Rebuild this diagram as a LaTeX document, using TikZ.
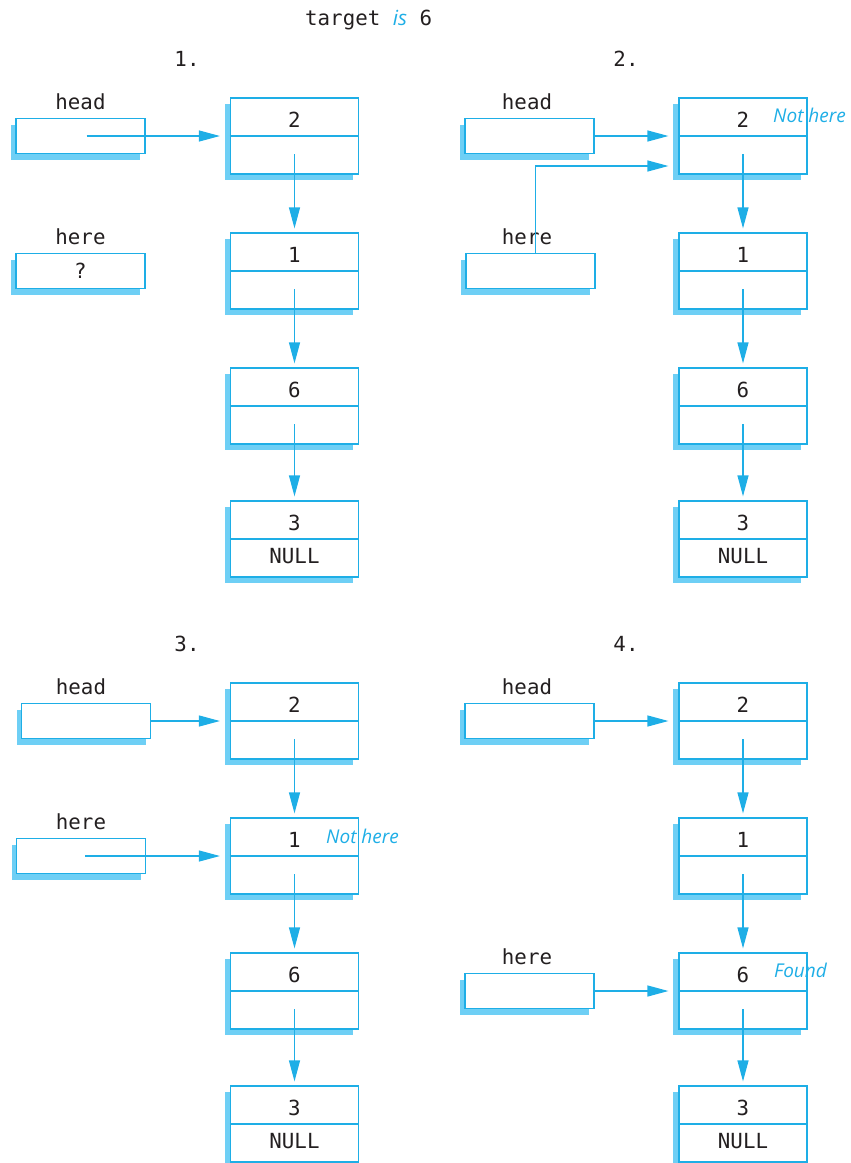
\documentclass[tikz,border=0pt]{standalone}
\usepackage{fontspec}
\setmainfont{DejaVu Sans Mono}
\newfontfamily\notefont{Open Sans}
\usetikzlibrary{arrows.meta, positioning, shadows, calc}
\definecolor{ptrblue}{RGB}{30,174,230}
\definecolor{shadeblue}{RGB}{110,207,245}
\definecolor{inkgray}{RGB}{35,31,32}
\tikzstyle{cell} = [rectangle, draw=ptrblue, fill=white, line width=1.2pt, minimum width=128pt, minimum height=76pt, inner sep=0pt, drop shadow={shadow xshift=-6pt, shadow yshift=-6pt, fill=shadeblue, draw=none, opacity=1}]
\tikzstyle{ptrbox} = [rectangle, draw=ptrblue, fill=white, line width=1.2pt, minimum width=129pt, minimum height=35pt, inner sep=0pt, drop shadow={shadow xshift=-5pt, shadow yshift=-6pt, fill=shadeblue, draw=none, opacity=1}]
\tikzstyle{celltext} = [font=\fontsize{20.8}{24}\selectfont, text=inkgray, inner sep=0pt]
\tikzstyle{note} = [font=\notefont\itshape\fontsize{19}{22}\selectfont, text=ptrblue, inner sep=0pt]
\tikzstyle{divider} = [draw=ptrblue, line width=1.2pt]
\tikzstyle{arrow} = [draw=ptrblue, line width=1.2pt, -{Triangle[length=21pt, width=11pt]}]

% one list node: name, centre, data, link field
\newcommand{\listcell}[4]{%
  \node[cell] (#1) at (#2) {};
  \draw[divider] (#1.west) -- (#1.east);
  \node[celltext, anchor=base] (#1d) at ([yshift=-30.5pt]#1.north) {#3};
  \node[celltext, anchor=base] (#1n) at ([yshift=-24.5pt]#1.center) {#4};
}

\begin{document}
\begin{tikzpicture}[x=1pt, y=-1pt]
  \useasboundingbox (0,0) rectangle (851,1163);

  \node[celltext, anchor=base west] (title) at (305,25) {target {\notefont\itshape\color{ptrblue}is} 6};

  % panel 1
  \node[celltext, anchor=base] (num1) at (187,66) {1.};
  \listcell{c11}{294.5,136}{2}{}
  \listcell{c12}{294.5,271}{1}{}
  \listcell{c13}{294.5,406}{6}{}
  \listcell{c14}{294.5,539}{3}{NULL}
  \node[ptrbox] (head1) at (80.5,136) {};
  \node[ptrbox, celltext, draw=ptrblue, minimum width=129pt, minimum height=35pt] (here1) at (80.5,271) {?};
  \node[celltext, above=8pt of head1] (headlbl1) {head};
  \node[celltext, above=8pt of here1] (herelbl1) {here};
  \draw[arrow, shorten >=10pt] ([xshift=6pt]head1.center) -- (c11.west);

  % panel 2
  \node[celltext, anchor=base] (num2) at (626,66) {2.};
  \listcell{c21}{743,136}{2}{}
  \listcell{c22}{743,271}{1}{}
  \listcell{c23}{743,406}{6}{}
  \listcell{c24}{743,539}{3}{NULL}
  \node[ptrbox] (head2) at (529.5,136) {};
  \node[ptrbox] (here2) at (530.5,271) {};
  \node[celltext, above=8pt of head2, xshift=-2.5pt] (headlbl2) {head};
  \node[celltext, above=8pt of here2, xshift=-3.5pt] (herelbl2) {here};
  \node[note, anchor=base west] (note2) at (773,122) {Not here};
  \draw[arrow, shorten >=10pt] (head2.east) -- (c21.west);
  \draw[arrow, shorten >=10pt] ([xshift=5pt]here2.north) |- ([yshift=-30pt]c21.west);

  % panel 3
  \node[celltext, anchor=base] (num3) at (187,651) {3.};
  \listcell{c31}{294.5,721}{2}{}
  \listcell{c32}{294.5,856}{1}{}
  \listcell{c33}{294.5,991}{6}{}
  \listcell{c34}{294.5,1124}{3}{NULL}
  \node[ptrbox] (head3) at (86,721) {};
  \node[ptrbox] (here3) at (81,856) {};
  \node[celltext, above=8pt of head3, xshift=-5pt] (headlbl3) {head};
  \node[celltext, above=8pt of here3] (herelbl3) {here};
  \node[note, anchor=base west] (note3) at (326,843) {Not here};
  \draw[arrow, shorten >=10pt] (head3.east) -- (c31.west);
  \draw[arrow, shorten >=10pt] ([xshift=4pt]here3.center) -- (c32.west);

  % panel 4
  \node[celltext, anchor=base] (num4) at (626,651) {4.};
  \listcell{c41}{743,721}{2}{}
  \listcell{c42}{743,856}{1}{}
  \listcell{c43}{743,991}{6}{}
  \listcell{c44}{743,1124}{3}{NULL}
  \node[ptrbox] (head4) at (529.5,721) {};
  \node[ptrbox] (here4) at (529.5,991) {};
  \node[celltext, above=8pt of head4, xshift=-2.5pt] (headlbl4) {head};
  \node[celltext, above=8pt of here4, xshift=-2.5pt] (herelbl4) {here};
  \node[note, anchor=base west] (note4) at (774,977) {Found};
  \draw[arrow, shorten >=10pt] (head4.east) -- (c41.west);
  \draw[arrow, shorten >=10pt] (here4.east) -- (c43.west);

  % next links
  \foreach \a/\b in {c11/c12, c12/c13, c13/c14, c21/c22, c22/c23, c23/c24,
                     c31/c32, c32/c33, c33/c34, c41/c42, c42/c43, c43/c44}
    \draw[arrow, shorten >=4pt] ([yshift=-18pt]\a.center) -- (\b.north);
\end{tikzpicture}
\end{document}
